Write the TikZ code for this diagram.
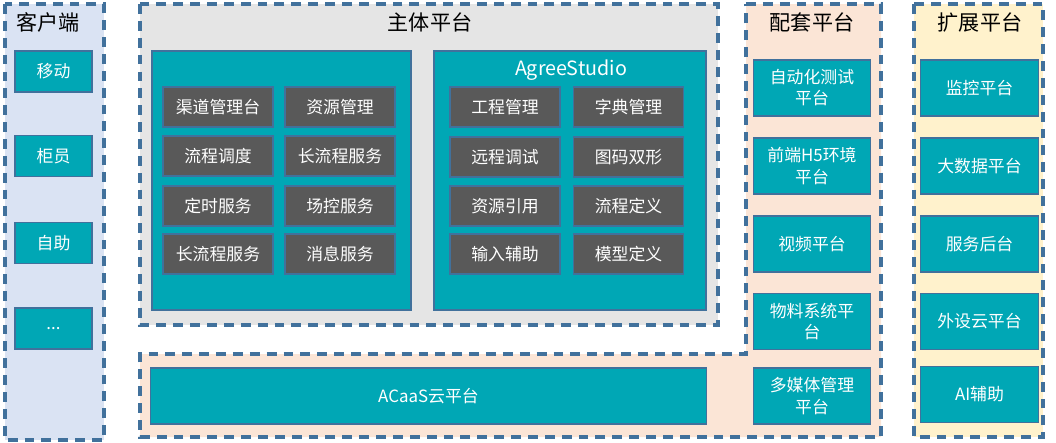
\documentclass[tikz,border=0pt]{standalone}
\usepackage{fontspec}
\setmainfont{Noto Sans CJK SC}
\usetikzlibrary{positioning}
\definecolor{boxteal}{RGB}{0,167,181}
\definecolor{boxgray}{RGB}{89,89,89}
\definecolor{lineblue}{RGB}{65,113,156}
\definecolor{clientbg}{RGB}{218,227,243}
\definecolor{mainbg}{RGB}{229,229,229}
\definecolor{matchbg}{RGB}{251,229,214}
\definecolor{extbg}{RGB}{255,242,204}
\newlength{\funcwidth}
\setlength{\funcwidth}{2.75cm}
\newlength{\platwidth}
\setlength{\platwidth}{2.93cm}
\newcommand{\autotesttext}{自动化测试\\平台}
\newcommand{\htmltext}{前端H5环境\\平台}
\newcommand{\materialtext}{物料系统平\\台}
\newcommand{\mediatext}{多媒体管理\\平台}

\begin{document}
\begin{tikzpicture}[x=0.025cm, y=-0.025cm,
  panel/.style={draw=lineblue, line width=2.4pt, dash pattern=on 7pt off 5pt},
  title/.style={font=\fontsize{15}{18}\selectfont, text=black},
  client/.style={draw=lineblue, line width=0.8pt, fill=boxteal, text=white, minimum width=1.925cm, minimum height=1.025cm, inner sep=0pt, font=\fontsize{12}{14}\selectfont},
  func/.style={draw=lineblue, line width=0.8pt, fill=boxgray, text=white, minimum width=\funcwidth, minimum height=1cm, inner sep=0pt, font=\fontsize{12}{14}\selectfont},
  plat/.style={draw=lineblue, line width=0.8pt, fill=boxteal, text=white, minimum width=\platwidth, minimum height=1.4cm, inner sep=0pt, align=center, font=\fontsize{12}{15}\selectfont}]
  \useasboundingbox (0,0) rectangle (1056,442);

  %dashed panels
  \draw[panel, fill=clientbg] (5,4) rectangle (104,440);
  \draw[panel, fill=mainbg] (140,4) rectangle (718,325);
  \draw[panel, fill=matchbg] (746,4) -- (881,4) -- (881,437) -- (140,437) -- (140,354) -- (746,354) -- cycle;
  \draw[panel, fill=extbg] (914,4) rectangle (1043,437);

  %panel titles
  \draw (48,22) node[title] (T1) {客户端};
  \draw (430,22) node[title] (T2) {主体平台};
  \draw (812,22) node[title] (T3) {配套平台};
  \draw (980,22) node[title] (T4) {扩展平台};

  %client side
  \draw (53.5,71.5) node[client] (C1) {移动};
  \draw (53.5,156) node[client] (C2) {柜员};
  \draw (53.5,243) node[client] (C3) {自助};
  \draw (53.5,328.5) node[client] (C4) {...};

  %main platform, left block
  \draw[draw=lineblue, line width=0.8pt, fill=boxteal] (152,51) rectangle (411,310);
  \draw (218,107) node[func] (L1) {渠道管理台};
  \draw (340,107) node[func] (L2) {资源管理};
  \draw (218,156) node[func] (L3) {流程调度};
  \draw (340,156) node[func] (L4) {长流程服务};
  \draw (218,206) node[func] (L5) {定时服务};
  \draw (340,206) node[func] (L6) {场控服务};
  \draw (218,254) node[func] (L7) {长流程服务};
  \draw (340,254) node[func] (L8) {消息服务};

  %main platform, AgreeStudio block
  \draw[draw=lineblue, line width=0.8pt, fill=boxteal] (434,51) rectangle (706,310);
  \draw (571,70) node[text=white, font=\fontsize{14}{16}\selectfont] (S) {AgreeStudio};
  \draw (505,107) node[func] (R1) {工程管理};
  \draw (628.5,107) node[func] (R2) {字典管理};
  \draw (505,157) node[func] (R3) {远程调试};
  \draw (628.5,157) node[func] (R4) {图码双形};
  \draw (505,206) node[func] (R5) {资源引用};
  \draw (628.5,206) node[func] (R6) {流程定义};
  \draw (505,254) node[func] (R7) {输入辅助};
  \draw (628.5,254) node[func] (R8) {模型定义};

  %cloud platform
  \draw (428.5,396) node[plat, minimum width=13.875cm] (P) {ACaaS云平台};

  %matching platforms
  \draw (812,88) node[plat] (M1) {\autotesttext};
  \draw (812,166) node[plat] (M2) {\htmltext};
  \draw (812,244) node[plat] (M3) {视频平台};
  \draw (812,321.5) node[plat] (M4) {\materialtext};
  \draw (812,396) node[plat] (M5) {\mediatext};

  %extension platforms
  \draw (979.5,88) node[plat] (E1) {监控平台};
  \draw (979.5,166) node[plat] (E2) {大数据平台};
  \draw (979.5,244) node[plat] (E3) {服务后台};
  \draw (979.5,321.5) node[plat] (E4) {外设云平台};
  \draw (979.5,394.5) node[plat] (E5) {AI辅助};
\end{tikzpicture}
\end{document}
